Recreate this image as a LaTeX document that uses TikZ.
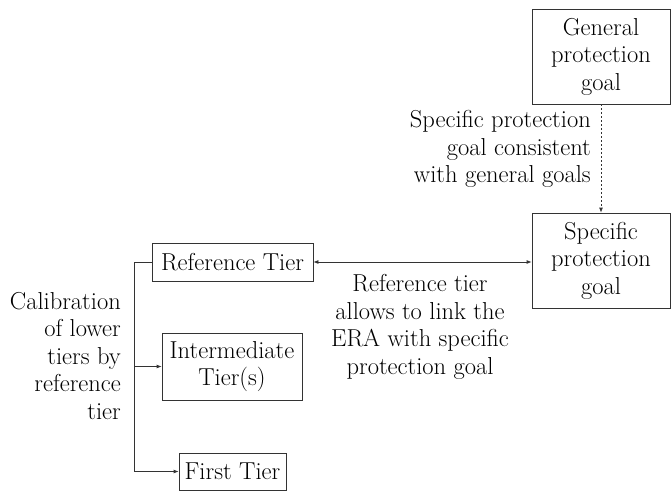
\documentclass[tikz,border=0pt]{standalone}
\usetikzlibrary{arrows.meta}
\begin{document}
\begin{tikzpicture}[x=1pt,y=-1pt,
  every node/.style={font=\rmfamily\fontsize{24.5}{27.5}\selectfont, inner sep=0pt},
  box/.style={draw=black!80, line width=0.8pt, align=center},
  lbl/.style={align=center},
  conn/.style={draw=black!80, line width=0.8pt},
  arr/.style={conn, -{Latex[length=5pt,width=4pt]}},
  darr/.style={conn, {Latex[length=5pt,width=4pt]}-{Latex[length=5pt,width=4pt]}},
  dasharr/.style={arr, dash pattern=on 2pt off 2pt}]
\useasboundingbox[fill=white] (0,0) rectangle (671,492);
\node[box, minimum width=138pt, minimum height=95pt] (gen) at (601,56.5) {General\\protection\\goal};
\node[box, minimum width=138pt, minimum height=95pt] (spec) at (601,260.5) {Specific\\protection\\goal};
\node[box, minimum width=161pt, minimum height=38pt] (ref) at (232.5,262) {Reference Tier};
\node[box, minimum width=140pt, minimum height=67pt] (inter) at (232,366.5) {Intermediate\\Tier(s)};
\node[box, minimum width=107pt, minimum height=37pt] (first) at (232.5,471.5) {First Tier};
\node[lbl, align=right, anchor=east] (cal) at (121,356) {Calibration\\of lower\\tiers by\\reference\\tier};
\node[lbl] (link) at (420,327) {Reference tier\\allows to link the\\ERA with specific\\protection goal};
\node[lbl, align=right, anchor=east] (cons) at (591,149) {Specific protection\\goal consistent\\with general goals};
\coordinate (bus) at (134,262);
\draw[dasharr] (gen.south) -- (spec.north);
\draw[darr] (ref.east) -- (ref.east -| spec.west);
\draw[arr] (ref.west) -- (bus) -- (bus |- first.west) -- (first.west);
\draw[arr] (bus |- inter.west) -- (inter.west);
\end{tikzpicture}
\end{document}
